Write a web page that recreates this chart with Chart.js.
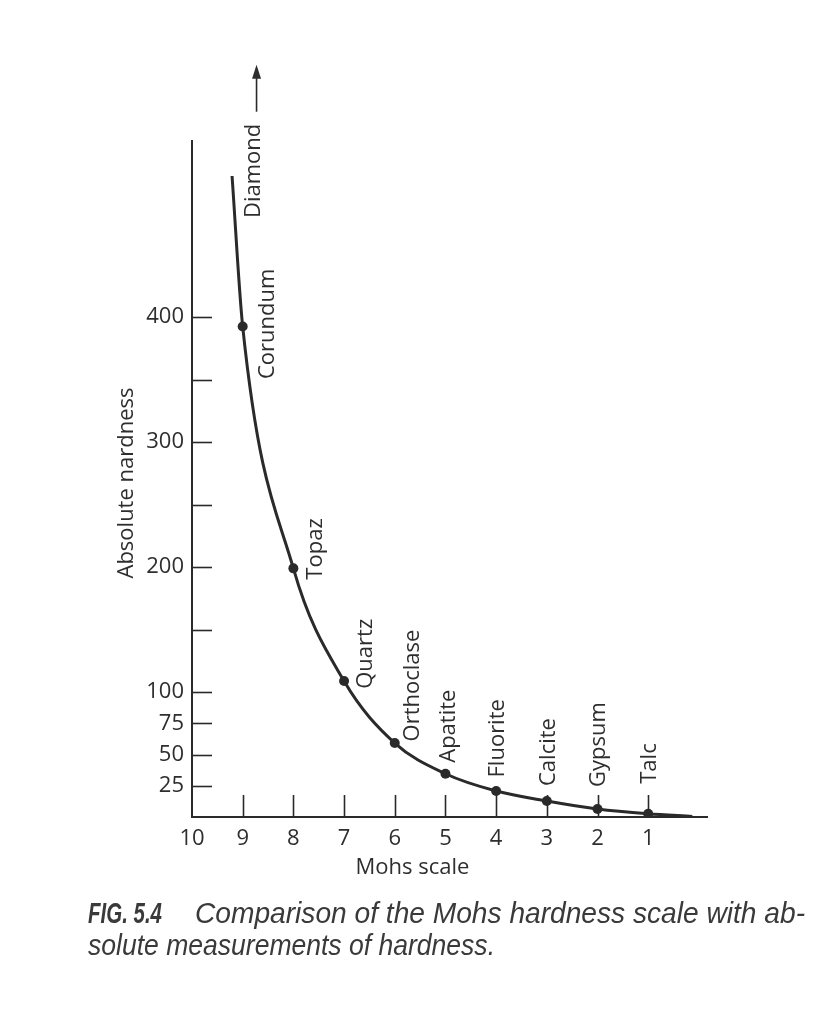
<!DOCTYPE html>
<html><head><meta charset="utf-8">
<style>html,body{margin:0;padding:0;background:#fff;}canvas{display:block;}</style>
<script src="https://cdn.jsdelivr.net/npm/chart.js@4.4.1/dist/chart.umd.min.js"></script>
</head><body>
<canvas id="c" width="832" height="1024"></canvas>
<script>
// ---- data ----
const minerals = ['Talc','Gypsum','Calcite','Fluorite','Apatite','Orthoclase','Quartz','Topaz','Corundum'];
const mohsScale = [1,2,3,4,5,6,7,8,9];
const absoluteHardness = [2.6,6.4,12.8,20.8,34.6,59.2,108.8,199,392.5];
// the drawn curve: its two ends plus the mineral points
const curveMohs = [0.13,1,2,3,4,5,6,7,8,9,9.21];
const curveHardness = [0.5,2.6,6.4,12.8,20.8,34.6,59.2,108.8,199,392.5,513];
const xTickValues = [1,2,3,4,5,6,7,8,9,10];
const xTickMarks = [1,2,3,4,5,6,7,8,9];
const yTickValues = [25,50,75,100,150,200,250,300,350,400];
const yTickLabels = ['25','50','75','100','','200','','300','','400'];
const topMineral = 'Diamond';
const xTitle = 'Mohs scale';
const yTitle = 'Absolute nardness';
const captionBold = 'FIG. 5.4';
const captionLine1 = 'Comparison of the Mohs hardness scale with ab-';
const captionLine2 = 'solute measurements of hardness.';

const INK = '#2a2a2a';
const TXT = '#2e2e2e';
const FONT = '"Open Sans", "Noto Sans", sans-serif';

// label offsets (pixels) relative to each mineral point: [dx to baseline, dy to text start]
const labelOffsets = [[7.4,-30],[7.4,-22],[7.7,-15],[8,-13.5],[9.7,-11],[24,-1.6],[28,7.7],[28.4,11.3],[31.3,52.5]];

const annot = {
  id: 'annot',
  afterDraw(chart) {
    const ctx = chart.ctx, xs = chart.scales.x, ys = chart.scales.y, a = chart.chartArea;
    ctx.save();
    // inward tick marks
    ctx.strokeStyle = INK; ctx.lineWidth = 1.6;
    yTickValues.forEach(v => {
      const y = Math.round(ys.getPixelForValue(v)) + 0.5;
      ctx.beginPath(); ctx.moveTo(a.left, y); ctx.lineTo(a.left + 20, y); ctx.stroke();
    });
    xTickMarks.forEach(v => {
      const x = Math.round(xs.getPixelForValue(v)) + 0.5;
      ctx.beginPath(); ctx.moveTo(x, a.bottom); ctx.lineTo(x, a.bottom - 22); ctx.stroke();
    });
    // mineral labels
    ctx.fillStyle = TXT;
    ctx.font = '22px ' + FONT;
    ctx.textAlign = 'left'; ctx.textBaseline = 'alphabetic';
    minerals.forEach((m, i) => {
      const px = xs.getPixelForValue(mohsScale[i]);
      const py = ys.getPixelForValue(absoluteHardness[i]);
      const [dx, dy] = labelOffsets[i];
      ctx.save(); ctx.translate(px + dx, py + dy); ctx.rotate(-Math.PI / 2);
      ctx.fillText(m, 0, 0); ctx.restore();
    });
    // Diamond label with arrow
    const sx = xs.getPixelForValue(curveMohs[curveMohs.length - 1]);
    const sy = ys.getPixelForValue(curveHardness[curveHardness.length - 1]);
    ctx.save(); ctx.translate(sx + 28, sy + 42); ctx.rotate(-Math.PI / 2);
    ctx.fillText(topMineral, 0, 0);
    const w = ctx.measureText(topMineral).width;
    ctx.restore();
    const ax = sx + 24.5, ay0 = sy + 42 - w - 12, ay1 = ay0 - 47;
    ctx.lineWidth = 1.6;
    ctx.beginPath(); ctx.moveTo(ax, ay0); ctx.lineTo(ax, ay1 + 4); ctx.stroke();
    ctx.beginPath(); ctx.moveTo(ax, ay1); ctx.lineTo(ax - 4.5, ay1 + 14); ctx.lineTo(ax + 4.5, ay1 + 14); ctx.closePath(); ctx.fill();
    // axis titles
    ctx.textAlign = 'center';
    ctx.fillText(xTitle, 412.5, 873.5);
    ctx.save(); ctx.translate(133, 483); ctx.rotate(-Math.PI / 2);
    ctx.fillText(yTitle, 0, 0); ctx.restore();
    // caption
    ctx.textAlign = 'left';
    ctx.fillStyle = '#3a3a3a';
    const cf = '"Liberation Sans", Arial, sans-serif';
    ctx.font = 'italic bold 30px ' + cf;
    const kb = 74 / ctx.measureText(captionBold).width;
    ctx.save(); ctx.translate(88, 923); ctx.scale(kb, 1); ctx.fillText(captionBold, 0, 0); ctx.restore();
    ctx.font = 'italic 30px ' + cf;
    const k1 = 610 / ctx.measureText(captionLine1).width;
    const k2 = 407 / ctx.measureText(captionLine2).width;
    ctx.save(); ctx.translate(195, 923); ctx.scale(k1, 1); ctx.fillText(captionLine1, 0, 0); ctx.restore();
    ctx.save(); ctx.translate(88, 955); ctx.scale(k2, 1); ctx.fillText(captionLine2, 0, 0); ctx.restore();
    ctx.restore();
  }
};

new Chart(document.getElementById('c'), {
  type: 'scatter',
  data: {
    datasets: [
      {
        data: curveMohs.map((x, i) => ({x, y: curveHardness[i]})),
        showLine: true, borderColor: INK, borderWidth: 3, pointRadius: 0,
        cubicInterpolationMode: 'monotone', fill: false
      },
      {
        data: mohsScale.map((x, i) => ({x, y: absoluteHardness[i]})),
        showLine: false, pointRadius: 5, backgroundColor: INK, borderColor: INK, borderWidth: 0
      }
    ]
  },
  options: {
    responsive: false, animation: false, devicePixelRatio: 1,
    layout: { padding: { top: 141, right: 125, left: 0, bottom: 0 } },
    plugins: { legend: { display: false }, tooltip: { enabled: false } },
    scales: {
      x: {
        type: 'linear', reverse: true, min: -0.16, max: 10,
        afterBuildTicks: s => { s.ticks = xTickValues.map(v => ({value: v})); },
        afterFit: s => { s.height = 207; },
        grid: { display: false, drawTicks: false },
        border: { display: true, color: INK, width: 2 },
        ticks: { color: TXT, font: { family: FONT, size: 22 }, padding: 9, maxRotation: 0, autoSkip: false }
      },
      y: {
        type: 'linear', min: 0, max: 541,
        afterBuildTicks: s => { s.ticks = yTickValues.map(v => ({value: v})); },
        afterFit: s => { s.width = 192; },
        grid: { display: false, drawTicks: false },
        border: { display: true, color: INK, width: 2 },
        ticks: { color: TXT, font: { family: FONT, size: 22 }, padding: 8, autoSkip: false,
          callback: (v) => { const i = yTickValues.indexOf(v); return i >= 0 ? yTickLabels[i] : ''; } }
      }
    }
  },
  plugins: [annot]
});
</script>
</body></html>
